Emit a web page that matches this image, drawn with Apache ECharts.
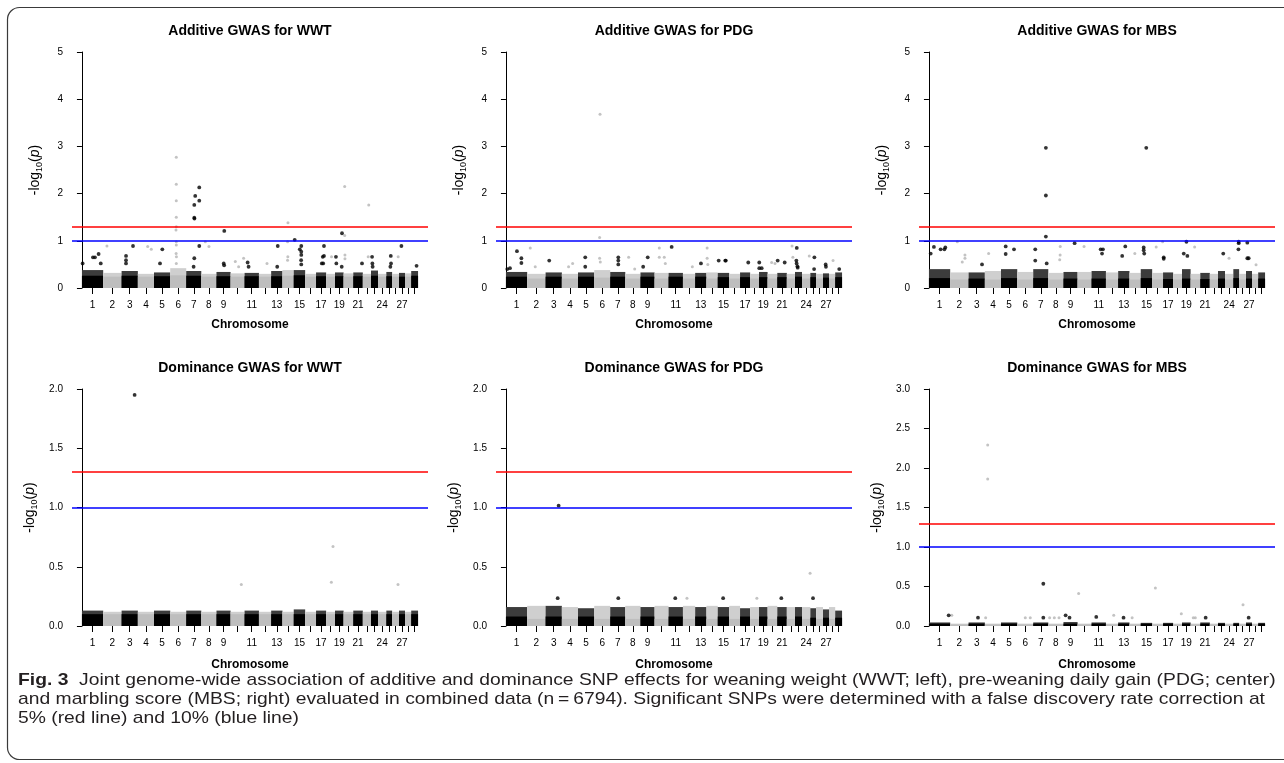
<!DOCTYPE html>
<html><head><meta charset="utf-8">
<script src="https://cdn.jsdelivr.net/npm/echarts@6/dist/echarts.min.js"></script>
<style>html,body{margin:0;padding:0;background:#fff}#c{width:1284px;height:763px}</style>
</head><body><div id="c"></div>
<script>
// ---------------- DATA ----------------
const chromLengthsMb = [158,137,121,120,121,119,112,113,105,104,107,91,84,84,85,81,75,66,64,72,71,61,52,62,43,51,45,46,51];
const labeledChromosomes = [1,2,3,4,5,6,7,8,9,11,13,15,17,19,21,24,27];
const panelTitles = ['Additive GWAS for WWT','Additive GWAS for PDG','Additive GWAS for MBS',
                     'Dominance GWAS for WWT','Dominance GWAS for PDG','Dominance GWAS for MBS'];
const yMaxes = [5,5,5,2,2,3];
const yIntervals = [1,1,1,0.5,0.5,0.5];
const yDecimals = [0,0,0,1,1,1];
const fdr5Threshold = 1.301;   // red line
const fdr10Threshold = 1.0;    // blue line

// dense SNP cloud per chromosome: opaque core height and sparse fringe height
const coreAddWWT   = [0.26,0.24,0.26,0.24,0.25,0.27,0.26,0.24,0.25,0.24,0.25,0.24,0.25,0.26,0.27,0.24,0.25,0.24,0.25,0.24,0.25,0.24,0.26,0.24,0.25,0.24,0.24,0.24,0.26];
const fringeAddWWT = [0.38,0.32,0.36,0.30,0.33,0.42,0.36,0.30,0.34,0.31,0.32,0.30,0.36,0.38,0.38,0.30,0.33,0.30,0.33,0.31,0.33,0.30,0.37,0.30,0.34,0.30,0.32,0.31,0.36];
const coreAddPDG   = [0.24,0.20,0.24,0.20,0.24,0.22,0.24,0.20,0.24,0.20,0.24,0.20,0.24,0.20,0.23,0.20,0.23,0.20,0.23,0.20,0.23,0.20,0.24,0.20,0.23,0.20,0.22,0.20,0.23];
const fringeAddPDG = [0.34,0.30,0.33,0.30,0.33,0.38,0.34,0.30,0.33,0.32,0.32,0.30,0.32,0.33,0.32,0.30,0.33,0.30,0.34,0.30,0.32,0.30,0.34,0.30,0.32,0.30,0.31,0.30,0.33];
const coreAddMBS   = [0.21,0.18,0.20,0.18,0.21,0.18,0.21,0.18,0.20,0.18,0.20,0.18,0.20,0.18,0.21,0.18,0.19,0.18,0.20,0.18,0.19,0.18,0.20,0.18,0.21,0.18,0.20,0.18,0.20];
const fringeAddMBS = [0.40,0.33,0.33,0.36,0.40,0.34,0.40,0.32,0.34,0.34,0.36,0.33,0.36,0.32,0.40,0.32,0.33,0.30,0.40,0.30,0.32,0.30,0.36,0.30,0.40,0.30,0.36,0.30,0.33];
const coreDomWWT   = [0.10,0.10,0.10,0.10,0.10,0.10,0.10,0.10,0.10,0.10,0.10,0.10,0.10,0.10,0.10,0.10,0.10,0.10,0.10,0.10,0.10,0.10,0.10,0.10,0.10,0.10,0.10,0.10,0.10];
const fringeDomWWT = [0.13,0.12,0.13,0.12,0.13,0.12,0.13,0.12,0.13,0.12,0.13,0.12,0.13,0.12,0.14,0.12,0.13,0.12,0.13,0.12,0.13,0.12,0.13,0.12,0.13,0.12,0.13,0.12,0.13];
const coreDomPDG   = [0.08,0.06,0.08,0.06,0.08,0.06,0.08,0.06,0.08,0.06,0.08,0.06,0.08,0.06,0.08,0.06,0.08,0.06,0.08,0.06,0.08,0.06,0.08,0.06,0.07,0.06,0.07,0.06,0.07];
const fringeDomPDG = [0.16,0.17,0.17,0.16,0.15,0.17,0.16,0.17,0.16,0.17,0.16,0.17,0.16,0.17,0.16,0.17,0.15,0.16,0.16,0.17,0.16,0.16,0.16,0.16,0.15,0.16,0.14,0.16,0.13];
const coreDomMBS   = [0.03,0.02,0.03,0.02,0.03,0.02,0.03,0.02,0.03,0.02,0.03,0.02,0.03,0.02,0.03,0.02,0.03,0.02,0.03,0.02,0.03,0.02,0.03,0.02,0.03,0.02,0.03,0.02,0.03];
const fringeDomMBS = [0.045,0.03,0.045,0.03,0.045,0.03,0.045,0.03,0.05,0.03,0.045,0.03,0.045,0.03,0.04,0.03,0.04,0.03,0.045,0.03,0.045,0.03,0.04,0.03,0.04,0.03,0.045,0.03,0.04];

// individual SNPs standing out of the cloud: [chromosome, position in Mb, -log10(p)]
const snpsAddWWT = [[1,5,0.52],[1,82,0.65],[1,97,0.65],[1,124,0.72],[1,140,0.52],[2,28,0.89],
 [3,33,0.68],[3,33,0.59],[3,33,0.52],[3,85,0.89],[4,73,0.88],[4,100,0.82],[5,45,0.52],[5,62,0.82],
 [6,45,2.77],[6,45,2.20],[6,45,1.85],[6,45,1.50],[6,45,1.30],[6,43,1.23],[6,45,0.98],[6,45,0.91],[6,44,0.73],[6,46,0.66],[6,45,0.52],
 [7,97,2.13],[7,67,1.95],[7,97,1.85],[7,60,1.76],[7,60,1.49],[7,61,1.47],[7,97,0.89],[7,60,0.63],[7,55,0.45],
 [8,30,0.98],[8,57,0.88],[9,58,1.21],[9,54,0.52],[9,57,0.48],[10,35,0.56],[10,97,0.63],[10,60,0.45],
 [11,23,0.54],[11,30,0.45],[12,60,0.52],[13,49,0.89],[13,45,0.45],
 [14,41,1.38],[14,38,0.98],[14,40,0.66],[14,38,0.59],
 [15,7,1.02],[15,56,0.89],[15,45,0.82],[15,56,0.77],[15,56,0.70],[15,55,0.59],[15,56,0.50],
 [17,59,0.89],[17,50,0.66],[17,43,0.52],[17,53,0.52],[17,59,0.68],[18,40,0.66],
 [19,7,0.66],[19,10,0.52],[19,52,1.16],[19,50,0.45],[20,8,1.11],[20,8,2.15],[20,10,0.70],[20,10,0.62],
 [21,65,0.52],[22,44,1.76],[22,40,0.66],[23,8,0.66],[23,10,0.52],[23,12,0.45],
 [25,33,0.68],[25,35,0.52],[25,30,0.45],[26,45,0.66],[27,18,0.89],[29,40,0.47]];
const snpsAddPDG = [[1,82,0.78],[1,115,0.63],[1,115,0.53],[1,30,0.42],[1,10,0.40],[2,23,0.85],[2,60,0.45],
 [3,27,0.58],[4,50,0.45],[4,80,0.52],[5,54,0.65],[5,54,0.45],[6,43,3.68],[6,40,1.07],[6,40,0.63],[6,45,0.55],
 [7,60,0.65],[7,60,0.58],[7,60,0.50],[8,25,0.65],[8,70,0.40],[9,54,0.65],[9,20,0.45],
 [10,35,0.85],[10,72,0.65],[10,35,0.65],[10,80,0.52],[11,23,0.87],[12,70,0.45],[13,43,0.52],
 [14,5,0.85],[14,5,0.63],[14,10,0.50],[15,7,0.58],[15,56,0.58],[15,60,0.58],[17,61,0.54],
 [19,2,0.54],[19,2,0.42],[19,20,0.42],[20,30,0.54],[20,55,0.52],[21,3,0.58],[21,55,0.54],
 [22,39,0.89],[22,45,0.65],[23,13,0.85],[23,10,0.58],[23,12,0.52],[23,18,0.46],[23,20,0.43],
 [24,54,0.68],[25,30,0.65],[25,28,0.40],[27,20,0.50],[27,22,0.45],[28,30,0.58],[29,30,0.40]];
const snpsAddMBS = [[1,13,0.73],[1,37,0.87],[1,87,0.82],[1,122,0.86],[1,115,0.82],[2,53,0.98],[2,110,0.70],[2,110,0.63],[2,90,0.55],
 [3,100,0.50],[4,28,0.73],[5,35,0.88],[5,35,0.72],[5,97,0.82],
 [7,15,0.82],[7,15,0.58],[7,94,2.97],[7,94,1.96],[7,94,1.09],[7,100,0.52],[8,89,0.88],[8,88,0.70],[8,85,0.60],
 [9,83,0.95],[10,48,0.88],[11,68,0.82],[11,78,0.73],[11,85,0.82],[13,53,0.88],[13,30,0.68],[14,40,0.73],
 [15,41,2.97],[15,22,0.86],[15,22,0.80],[15,26,0.73],[16,30,0.87],[16,78,0.98],[17,5,0.65],[17,5,0.62],
 [19,13,0.73],[19,40,0.68],[19,33,0.98],[20,30,0.87],[23,39,0.73],[24,30,0.63],
 [25,40,0.98],[25,40,0.95],[25,38,0.82],[27,10,0.96],[27,10,0.63],[27,20,0.63],[28,30,0.49]];
const snpsDomWWT = [[3,97,1.95],[10,80,0.35],[18,39,0.37],[18,51,0.67],[26,44,0.35]];
const snpsDomPDG = [[3,97,1.015],[24,60,0.445],[3,90,0.235],[7,60,0.235],[11,50,0.235],[15,40,0.235],
 [21,30,0.235],[25,20,0.235],[12,30,0.235],[18,50,0.235]];
const snpsDomMBS = [[4,21,2.29],[4,21,1.86],[7,75,0.535],[10,8,0.41],[16,24,0.48],[26,29,0.27],[1,147,0.135],[2,12,0.135],
 [3,70,0.105],[4,6,0.105],[6,60,0.105],[6,97,0.105],[7,75,0.105],[8,10,0.105],[8,45,0.105],[8,80,0.105],
 [9,16,0.135],[9,45,0.105],[11,35,0.115],[12,58,0.135],[13,40,0.105],[14,20,0.105],[18,61,0.155],
 [20,20,0.105],[20,35,0.105],[21,40,0.105],[27,20,0.105]];

const panelCores   = [coreAddWWT, coreAddPDG, coreAddMBS, coreDomWWT, coreDomPDG, coreDomMBS];
const panelFringes = [fringeAddWWT, fringeAddPDG, fringeAddMBS, fringeDomWWT, fringeDomPDG, fringeDomMBS];
const panelSnps    = [snpsAddWWT, snpsAddPDG, snpsAddMBS, snpsDomWWT, snpsDomPDG, snpsDomMBS];

// ---------------- LAYOUT ----------------
const FONT = '"Liberation Sans", Arial, sans-serif';
const gridLefts = [72, 496, 919];
const gridWidth = 356;
const rowTops = [52, 389];
const rowHeights = [236, 237];
const xMin = -74, xMax = 2575;

const chromStarts = [];
let acc = 0;
chromLengthsMb.forEach(l => { chromStarts.push(acc); acc += l; });
const chromCenters = chromLengthsMb.map((l, i) => chromStarts[i] + l / 2);
const labelCenters = labeledChromosomes.map(c => chromCenters[c - 1]);
function chromOfX(v) {
  let best = 0, d = Infinity;
  chromCenters.forEach((c, i) => { if (Math.abs(c - v) < d) { d = Math.abs(c - v); best = i; } });
  return String(best + 1);
}

const grid = [], xAxis = [], yAxis = [], series = [], graphic = [];
for (let p = 0; p < 6; p++) {
  const row = Math.floor(p / 3), col = p % 3;
  grid.push({ left: gridLefts[col], top: rowTops[row], width: gridWidth, height: rowHeights[row], containLabel: false });
  xAxis.push({
    gridIndex: p, type: 'value', min: xMin, max: xMax,
    axisLine: { show: false }, splitLine: { show: false },
    axisTick: { show: true, customValues: chromCenters, length: 6, lineStyle: { color: '#000', width: 1 } },
    axisLabel: { show: true, customValues: labelCenters, formatter: chromOfX, margin: 12,
                 fontSize: 10, color: '#000', fontFamily: FONT }
  });
  yAxis.push({
    gridIndex: p, type: 'value', min: 0, max: yMaxes[p], interval: yIntervals[p],
    axisLine: { show: true, lineStyle: { color: '#000', width: 1 } },
    axisTick: { show: true, length: 5, lineStyle: { color: '#000' } },
    splitLine: { show: false },
    axisLabel: { margin: 9, fontSize: 10, color: '#000', fontFamily: FONT,
                 formatter: v => v.toFixed(yDecimals[p]) },
    name: '{a|-log}{s|10}{a|(}{i|p}{a|)}', nameLocation: 'middle', nameRotate: 90,
    nameGap: row === 0 ? 28 : 33,
    nameTextStyle: { color: '#000', rich: {
      a: { fontSize: 14, fontFamily: FONT, color: '#000', lineHeight: 18 },
      s: { fontSize: 9, fontFamily: FONT, color: '#000', verticalAlign: 'bottom', lineHeight: 18 },
      i: { fontSize: 14, fontFamily: FONT, fontStyle: 'italic', color: '#000', lineHeight: 18 } } }
  });

  const bands = chromLengthsMb.map((l, i) => [chromStarts[i], chromStarts[i] + l, panelCores[p][i], panelFringes[p][i], (i + 1) % 2]);
  series.push({
    type: 'custom', xAxisIndex: p, yAxisIndex: p, data: bands, silent: true, z: 2,
    renderItem: (params, api) => {
      const s = api.value(0), e = api.value(1), core = api.value(2), fr = api.value(3), odd = api.value(4);
      const p0 = api.coord([s, 0]), pf = api.coord([e, fr]), pc = api.coord([e, core]);
      return { type: 'group', children: [
        { type: 'rect', shape: { x: p0[0], y: pf[1], width: pf[0] - p0[0], height: p0[1] - pf[1] },
          style: { fill: odd ? '#3c3c3c' : '#cfcfcf' } },
        { type: 'rect', shape: { x: p0[0], y: pc[1], width: pc[0] - p0[0], height: p0[1] - pc[1] },
          style: { fill: odd ? '#000000' : '#bebebe' } } ] };
    }
  });
  const pts = panelSnps[p];
  series.push({
    type: 'scatter', xAxisIndex: p, yAxisIndex: p, symbolSize: 3, z: 3, silent: true,
    data: pts.filter(d => d[0] % 2 === 0).map(d => [chromStarts[d[0] - 1] + d[1], d[2]]),
    itemStyle: { color: '#b4b4b4' }
  });
  series.push({
    type: 'scatter', xAxisIndex: p, yAxisIndex: p, symbolSize: 3.8, z: 4, silent: true,
    data: pts.filter(d => d[0] % 2 === 1).map(d => [chromStarts[d[0] - 1] + d[1], d[2]]),
    itemStyle: { color: '#000' },
    markLine: { silent: true, symbol: 'none', label: { show: false }, animation: false,
      data: [ { yAxis: fdr5Threshold, lineStyle: { color: '#ff0000', width: 1.5, type: 'solid' } },
              { yAxis: fdr10Threshold, lineStyle: { color: '#0000ff', width: 1.5, type: 'solid' } } ] }
  });

  const cx = gridLefts[col] + gridWidth / 2;
  graphic.push({ type: 'text', x: cx, y: row === 0 ? 31 : 368,
    style: { text: panelTitles[p], font: 'bold 14px ' + FONT, fill: '#000', align: 'center', verticalAlign: 'middle' } });
  graphic.push({ type: 'text', x: cx, y: row === 0 ? 325 : 665,
    style: { text: 'Chromosome', font: 'bold 12px ' + FONT, fill: '#000', align: 'center', verticalAlign: 'middle' } });
}

graphic.push({ type: 'rect', shape: { x: 7.5, y: 7.5, width: 1300, height: 752, r: 12 },
  style: { fill: 'none', stroke: '#3a3a3a', lineWidth: 1.2 }, silent: true });
const capFont = '17px "Liberation Sans", Arial, sans-serif';
const capLines = [
  '{b|Fig. 3}  Joint genome-wide association of additive and dominance SNP effects for weaning weight (WWT; left), pre-weaning daily gain (PDG; center)',
  'and marbling score (MBS; right) evaluated in combined data (n\u2009=\u20096794). Significant SNPs were determined with a false discovery rate correction at',
  '5% (red line) and 10% (blue line)'];
const capY = [680, 699, 718];
capLines.forEach((t, i) => graphic.push({ type: 'text', x: 18, y: capY[i], scaleX: 1.135, originX: 0,
  style: { text: t, font: capFont, fill: '#231f20', align: 'left', verticalAlign: 'middle',
    rich: { b: { font: 'bold 17px "Liberation Sans", Arial, sans-serif', fill: '#231f20' } } } }));

const chart = echarts.init(document.getElementById('c'), null, { renderer: 'canvas' });
chart.setOption({ animation: false, backgroundColor: '#fff', grid, xAxis, yAxis, series, graphic });
</script></body></html>
